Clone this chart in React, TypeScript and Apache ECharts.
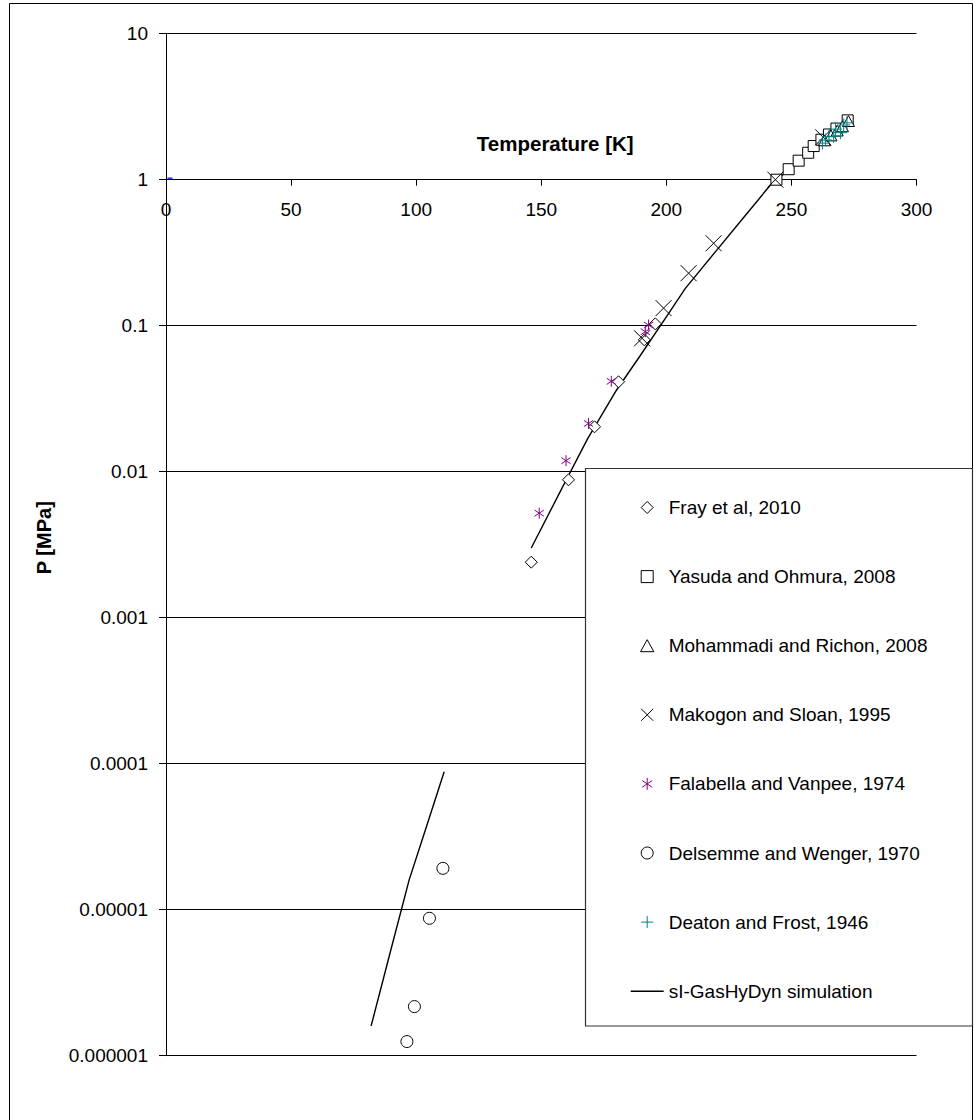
import { useEffect, useRef } from 'react';
import * as echarts from 'echarts';

// Hydrate equilibrium data: temperature [K] and pressure [MPa]
const frayT = [146.0, 160.9, 171.3, 180.9, 191.2, 195.6];
const frayP = [0.0024, 0.0088, 0.0203, 0.0413, 0.08, 0.103];

const yasudaT = [244.0, 248.9, 252.9, 256.7, 258.9, 262.0, 265.0, 268.0, 272.5];
const yasudaP = [1.0, 1.18, 1.35, 1.53, 1.7, 1.88, 2.04, 2.24, 2.55];

const mohammadiT = [263.2, 265.8, 268.3, 270.4, 272.8];
const mohammadiP = [1.86, 2.01, 2.17, 2.32, 2.52];

const makogonT = [190.3, 198.9, 208.9, 218.9, 243.6, 262.7];
const makogonP = [0.082, 0.132, 0.229, 0.367, 1.0, 1.95];

const falabellaT = [149.2, 159.9, 168.9, 178.0, 191.6, 192.9];
const falabellaP = [0.0052, 0.0119, 0.0214, 0.0416, 0.091, 0.101];

const delsemmeT = [96.3, 99.3, 105.3, 110.7];
const delsemmeP = [0.00000125, 0.00000217, 0.00000873, 0.0000192];

const deatonT = [262.4, 263.6, 265.0, 266.9, 267.6, 269.6, 270.9, 272.2];
const deatonP = [1.78, 1.87, 1.97, 1.98, 2.22, 2.1, 2.37, 2.45];

// sI-GasHyDyn simulation, two temperature branches
const simLowT = [82.0, 90.0, 97.2, 104.0, 111.2];
const simLowP = [0.0000016, 0.0000054, 0.000016, 0.0000366, 0.000088];
const simHighT = [146, 160, 168.5, 180, 190, 200, 207.6, 220, 230, 241.6, 250, 260, 272.8];
const simHighP = [0.003, 0.0088, 0.0168, 0.036, 0.064, 0.115, 0.18, 0.327, 0.527, 0.92, 1.21, 1.68, 2.5];

// stray marker near the axis origin
const markerT = [1.6];
const markerP = [1.02];

const yTickLabels = ['0.000001', '0.00001', '0.0001', '0.001', '0.01', '0.1', '1', '10'];

const FONT = '"Liberation Sans", Arial, sans-serif';

const SYM = {
  diamond: 'path://M5,0L10,5L5,10L0,5Z',
  square: 'path://M0,0L10,0L10,10L0,10Z',
  triangle: 'path://M5,0L10,9L0,9Z',
  cross: 'path://M0,0L10,10M10,0L0,10',
  star: 'path://M5,0L5,10M0.8,2.2L9.2,7.8M9.2,2.2L0.8,7.8',
  plus: 'path://M5,0L5,10M0,5L10,5',
};

const pts = (t: number[], p: number[]) => t.map((x, i) => [x, p[i]]);

const names = [
  'Fray et al, 2010',
  'Yasuda and Ohmura, 2008',
  'Mohammadi and Richon, 2008',
  'Makogon and Sloan, 1995',
  'Falabella and Vanpee, 1974',
  'Delsemme and Wenger, 1970',
  'Deaton and Frost, 1946',
  'sI-GasHyDyn simulation',
];

function scatter(name: string, data: number[][], symbol: string, size: number, stroke: string, fill: string) {
  return {
    type: 'scatter',
    name,
    data,
    symbol,
    symbolSize: size,
    symbolKeepAspect: true,
    itemStyle: { color: fill, borderColor: stroke, borderWidth: 1, opacity: 1 },
    z: 3,
  };
}

export default function App() {
  const ref = useRef<HTMLDivElement>(null);

  useEffect(() => {
    if (!ref.current) return;
    const chart = echarts.init(ref.current, undefined, { renderer: 'svg' });

    const legendStyle = (stroke: string, fill: string) => ({ color: fill, borderColor: stroke, borderWidth: 1 });

    chart.setOption({
      animation: false,
      backgroundColor: '#fff',
      textStyle: { fontFamily: FONT, color: '#000' },
      grid: { left: 166, top: 33.7, right: 57.5, bottom: 64.3, containLabel: false },
      xAxis: {
        type: 'value',
        min: 0,
        max: 300,
        interval: 50,
        position: 'bottom',
        offset: -876,
        name: 'Temperature [K]',
        nameLocation: 'middle',
        nameGap: -47,
        nameTextStyle: { fontFamily: FONT, fontSize: 20.5, fontWeight: 'bold', color: '#000', padding: [0, 0, 0, 28] },
        axisLine: { show: true, lineStyle: { color: '#000', width: 1 } },
        axisTick: { show: true, inside: false, length: 6, lineStyle: { color: '#000' } },
        axisLabel: { fontFamily: FONT, fontSize: 19, color: '#000', margin: 20 },
        splitLine: { show: false },
      },
      yAxis: {
        type: 'log',
        logBase: 10,
        min: 0.000001,
        max: 10,
        splitNumber: 7,
        name: 'P [MPa]',
        nameLocation: 'middle',
        nameGap: 112,
        nameRotate: 90,
        nameTextStyle: { fontFamily: FONT, fontSize: 20, fontWeight: 'bold', color: '#000', padding: [0, 0, 0, 14] },
        axisLine: { show: true, lineStyle: { color: '#000', width: 1 } },
        axisTick: { show: true, inside: false, length: 7, lineStyle: { color: '#000' } },
        axisLabel: {
          fontFamily: FONT,
          fontSize: 19,
          color: '#000',
          margin: 18,
          formatter: (v: number) => yTickLabels[Math.round(Math.log10(v)) + 6] ?? '',
        },
        splitLine: { show: true, lineStyle: { color: '#000', width: 1 } },
        minorTick: { show: false },
      },
      legend: {
        orient: 'vertical',
        left: 630,
        top: 497.5,
        padding: 0,
        itemWidth: 33,
        itemHeight: 12,
        itemGap: 49.1,
        z: 5,
        selectedMode: false,
        textStyle: { fontFamily: FONT, fontSize: 19, color: '#000', lineHeight: 20 },
        data: [
          { name: names[0], itemStyle: legendStyle('#000', '#fff') },
          { name: names[1], itemStyle: legendStyle('#000', '#fff') },
          { name: names[2], itemStyle: legendStyle('#000', '#fff') },
          { name: names[3], itemStyle: legendStyle('#000', 'transparent') },
          { name: names[4], itemStyle: legendStyle('#800080', 'transparent') },
          { name: names[5], itemStyle: legendStyle('#000', '#fff') },
          { name: names[6], itemStyle: legendStyle('#008080', 'transparent') },
          {
            name: names[7],
            itemStyle: { color: 'transparent', borderColor: 'transparent', borderWidth: 0 },
            lineStyle: { color: '#000', width: 1.4 },
          },
        ],
      },
      graphic: {
        elements: [
          {
            type: 'rect',
            silent: true,
            z: 0,
            shape: { x: 9.5, y: 3.5, width: 963, height: 1200 },
            style: { fill: 'none', stroke: '#000', lineWidth: 1 },
          },
          {
            type: 'rect',
            silent: true,
            z: 4,
            shape: { x: 585.5, y: 468.5, width: 387, height: 557.5 },
            style: { fill: '#fff', stroke: '#333', lineWidth: 1.2 },
          },
        ],
      },
      series: [
        {
          type: 'line',
          name: names[7],
          data: pts(simLowT, simLowP),
          symbol: 'none',
          showSymbol: false,
          lineStyle: { color: '#000', width: 1.4 },
          itemStyle: { color: '#000' },
          z: 2,
        },
        {
          type: 'line',
          name: names[7],
          data: pts(simHighT, simHighP),
          symbol: 'none',
          showSymbol: false,
          lineStyle: { color: '#000', width: 1.4 },
          itemStyle: { color: '#000' },
          z: 2,
        },
        scatter(names[0], pts(frayT, frayP), SYM.diamond, 12, '#000', '#fff'),
        scatter(names[1], pts(yasudaT, yasudaP), SYM.square, 11, '#000', '#fff'),
        scatter(names[2], pts(mohammadiT, mohammadiP), SYM.triangle, 12, '#000', '#fff'),
        scatter(names[3], pts(makogonT, makogonP), SYM.cross, 16, '#000', 'transparent'),
        scatter(names[4], pts(falabellaT, falabellaP), SYM.star, 11, '#800080', 'transparent'),
        scatter(names[5], pts(delsemmeT, delsemmeP), 'circle', 12, '#000', '#fff'),
        scatter(names[6], pts(deatonT, deatonP), SYM.plus, 13, '#008080', 'transparent'),
        {
          type: 'scatter',
          name: 'marker',
          data: pts(markerT, markerP),
          symbol: 'rect',
          symbolSize: [5, 2],
          itemStyle: { color: '#0000ff' },
          z: 3,
        },
      ],
    });

    return () => chart.dispose();
  }, []);

  return (
    <div
      ref={ref}
      style={{ position: 'fixed', left: 0, top: 0, width: 974, height: 1120, background: '#fff' }}
    />
  );
}
